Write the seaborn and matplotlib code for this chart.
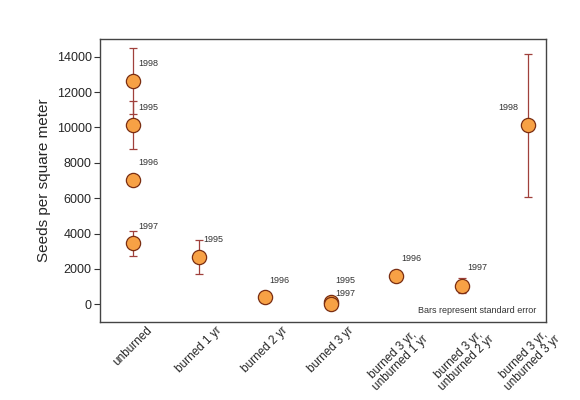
import numpy as np
import pandas as pd
import matplotlib
matplotlib.use("Agg")
import matplotlib.pyplot as plt
import seaborn as sns

# data
treatments = ["unburned", "burned 1 yr", "burned 2 yr", "burned 3 yr",
              "burned 3 yr,\nunburned 1 yr", "burned 3 yr,\nunburned 2 yr",
              "burned 3 yr,\nunburned 3 yr"]
point_treatment = [0, 0, 0, 0, 1, 2, 3, 3, 4, 5, 6]
point_year = ["1998", "1995", "1996", "1997", "1995", "1996", "1995", "1997",
              "1996", "1997", "1998"]
seeds = [12640, 10150, 7050, 3440, 2660, 410, 150, 40, 1610, 1040, 10110]
std_err = [1870, 1360, 0, 710, 950, 0, 0, 0, 0, 420, 4050]

# label offsets in pixels (dx, dy) and alignment
label_dx = [5, 5, 5, 5, 5, 5, 5, 5, 5, 5, -10]
label_dy = [17, 17, 17, 17, 18, 17, 21, 10, 17, 18, 18]
label_ha = ["left"] * 10 + ["right"]

df = pd.DataFrame({
    "pos": point_treatment,
    "year": point_year,
    "seeds": seeds,
    "se": std_err,
})

sns.set_style("white")
plt.rcParams["font.family"] = ["Liberation Sans", "DejaVu Sans"]

fig = plt.figure(figsize=(5.8, 4), dpi=100)
ax = fig.add_axes([0.1724, 0.195, 0.769, 0.7075])

err_color = "#a0403c"
has_err = df[df.se > 0]
ax.errorbar(has_err.pos, has_err.seeds, yerr=has_err.se, fmt="none",
            ecolor=err_color, elinewidth=0.9, capsize=3, capthick=0.9, zorder=2)

sns.scatterplot(data=df, x="pos", y="seeds", ax=ax, s=105,
                color="#f7a145", edgecolor="#7a2e12", linewidth=0.9,
                zorder=3, legend=False)

px = 72 / 100  # points per pixel
for i in range(len(df)):
    ax.annotate(point_year[i], (point_treatment[i], seeds[i]),
                xytext=(label_dx[i] * px, label_dy[i] * px),
                textcoords="offset points", ha=label_ha[i], va="center",
                fontsize=6.5, color="#333333")

ax.text(0.978, 0.042, "Bars represent standard error", transform=ax.transAxes,
        ha="right", va="center", fontsize=6.5, color="#333333")

ax.set_xlim(-0.5, 6.27)
ax.set_ylim(-1000, 15000)
ax.set_yticks(np.arange(0, 14001, 2000))
ax.set_xticks(range(len(treatments)))
ax.set_xticklabels(treatments, rotation=45, ha="center", fontsize=8.5,
                   linespacing=0.95)
ax.tick_params(axis="y", direction="out", length=4, width=0.8,
               labelsize=9, color="#333333", left=True, pad=2)
ax.tick_params(axis="x", length=0, pad=2)
ax.set_xlabel("")
ax.set_ylabel("Seeds per square meter", fontsize=11, labelpad=4)

for side in ax.spines.values():
    side.set_color("#444444")
    side.set_linewidth(1.0)

fig.savefig("out.png", dpi=100)
